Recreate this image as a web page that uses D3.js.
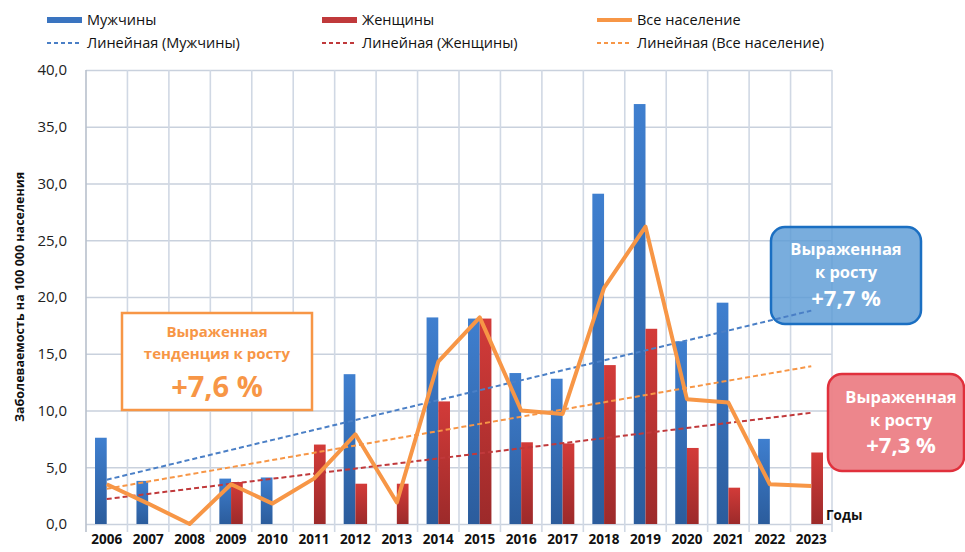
<!DOCTYPE html>
<html>
<head>
<meta charset="utf-8">
<script src="https://cdn.jsdelivr.net/npm/d3@7"></script>
<style>
  body { margin: 0; background: #fff; }
  svg { display: block; }
  .tick text { font-family: "Open Sans", sans-serif; }
</style>
</head>
<body>
<svg id="chart" width="965" height="552"></svg>
<script>
const years = ["2006","2007","2008","2009","2010","2011","2012","2013","2014","2015",
               "2016","2017","2018","2019","2020","2021","2022","2023"];

// заболеваемость на 100 000 населения
const male   = [7.6, 3.8, 0, 4.0, 4.1, 0, 13.2, 0, 18.2, 18.1, 13.3, 12.8, 29.1, 37.0, 16.1, 19.5, 7.5, 0];
const female = [0, 0, 0, 3.7, 0, 7.0, 3.55, 3.55, 10.8, 18.1, 7.2, 7.1, 14.0, 17.2, 6.7, 3.2, 0, 6.3];
const total  = [3.5, 1.8, 0, 3.5, 1.8, 4.0, 7.9, 1.9, 14.3, 18.2, 10.0, 9.7, 20.8, 26.2, 11.0, 10.7, 3.5, 3.35];

// линейные тренды (значения в 2006 и 2023)
const trendMale   = [3.9, 18.8];
const trendFemale = [2.2, 9.8];
const trendTotal  = [3.1, 13.9];

const yTicks = [0, 5, 10, 15, 20, 25, 30, 35, 40];

const margin = {top: 70, left: 86, right: 133, bottom: 28};
const W = 965, H = 552;
const plotRight = W - margin.right, plotBottom = H - margin.bottom;

const svg = d3.select("#chart");

const defs = svg.append("defs");
function grad(id, top, bottom) {
    let g = defs.append("linearGradient").attr("id", id)
        .attr("x1", 0).attr("y1", 0).attr("x2", 0).attr("y2", 1);
    g.append("stop").attr("offset", "0%").attr("stop-color", top);
    g.append("stop").attr("offset", "100%").attr("stop-color", bottom);
}
grad("gMale", "#3f7fcf", "#2b5c9c");
grad("gFemale", "#d33b39", "#9c2a2a");

const x = d3.scaleBand().domain(years).range([margin.left, plotRight]);
const sub = d3.scaleBand().domain(["m", "f"]).range([0, x.bandwidth()]).paddingOuter(0.77);
const y = d3.scaleLinear().domain([0, 40]).range([plotBottom, margin.top]);

const grid = svg.append("g");
// horizontal gridlines
grid.append("g")
    .attr("transform", `translate(${margin.left},0)`)
    .call(d3.axisLeft(y).tickValues(yTicks).tickSize(-(plotRight - margin.left)).tickFormat(""))
    .call(g => g.select(".domain").remove())
    .call(g => g.selectAll("line").attr("stroke", "#c9d1dd").attr("stroke-width", 1.6));
// vertical gridlines
grid.selectAll(".vline").data(years.concat(["end"])).enter().append("line")
    .attr("x1", d => d == "end" ? plotRight : x(d))
    .attr("x2", d => d == "end" ? plotRight : x(d))
    .attr("y1", margin.top).attr("y2", plotBottom + 8)
    .attr("stroke", d => d == "2006" ? "#b8c0cc" : "#d0d8e4")
    .attr("stroke-width", 1.6);

// y tick labels
svg.append("g")
    .attr("transform", `translate(${margin.left - 16},0)`)
    .call(d3.axisLeft(y).tickValues(yTicks).tickSize(0)
        .tickFormat(d => d3.format(".1f")(d).replace(".", ",")))
    .call(g => g.select(".domain").remove())
    .call(g => g.selectAll("text").attr("font-size", 15).attr("fill", "#222"));

// x tick labels
svg.append("g")
    .attr("transform", `translate(0,${plotBottom + 7})`)
    .call(d3.axisBottom(x).tickSize(0))
    .call(g => g.select(".domain").remove())
    .call(g => g.selectAll("text").attr("font-size", 13.5).attr("font-weight", "bold").attr("fill", "#111"));

// annotation boxes
const boxes = svg.append("g");
boxes.append("rect")
    .attr("x", 122).attr("y", 313).attr("width", 190).attr("height", 97)
    .attr("fill", "#fff").attr("stroke", "#f79646").attr("stroke-width", 2.5);
boxes.append("rect")
    .attr("x", 771).attr("y", 227).attr("width", 150).attr("height", 97).attr("rx", 14)
    .attr("fill", "#5b9bd5").attr("fill-opacity", 0.82)
    .attr("stroke", "#1b6fc2").attr("stroke-width", 2.5);
boxes.append("rect")
    .attr("x", 828).attr("y", 374).attr("width", 136).attr("height", 97).attr("rx", 14)
    .attr("fill", "#ec7f86").attr("fill-opacity", 0.95)
    .attr("stroke", "#e0303c").attr("stroke-width", 2.5);

// bars
const barG = svg.append("g");
years.forEach((yr, i) => {
    if (male[i] > 0) {
        barG.append("rect")
            .attr("x", x(yr) + sub("m")).attr("width", sub.bandwidth())
            .attr("y", y(male[i])).attr("height", y(0) - y(male[i]))
            .attr("fill", "url(#gMale)");
    }
    if (female[i] > 0) {
        barG.append("rect")
            .attr("x", x(yr) + sub("f")).attr("width", sub.bandwidth())
            .attr("y", y(female[i])).attr("height", y(0) - y(female[i]))
            .attr("fill", "url(#gFemale)");
    }
});

const cx = d => x(d) + x.bandwidth() / 2;

// trend lines
const trendLine = d3.line().x(d => cx(d[0])).y(d => y(d[1]));
[[trendMale, "#4a7fc6"], [trendFemale, "#c0393b"], [trendTotal, "#f79646"]].forEach(t => {
    svg.append("path")
        .attr("d", trendLine([[years[0], t[0][0]], [years[years.length - 1], t[0][1]]]))
        .attr("fill", "none").attr("stroke", t[1]).attr("stroke-width", 2)
        .attr("stroke-dasharray", "5,3");
});

// total line
svg.append("path")
    .datum(total)
    .attr("d", d3.line().x((d, i) => cx(years[i])).y(d => y(d)))
    .attr("fill", "none").attr("stroke", "#f79646").attr("stroke-width", 4)
    .attr("stroke-linejoin", "round");

// box texts
function boxText(lines, cxPos, fill) {
    lines.forEach(l => {
        svg.append("text").attr("x", cxPos).attr("y", l[0])
            .attr("text-anchor", "middle")
            .attr("font-family", "'Open Sans', sans-serif").attr("font-weight", "bold")
            .attr("font-size", l[2]).attr("fill", fill).text(l[1]);
    });
}
boxText([[337, "Выраженная", 15], [359, "тенденция к росту", 15], [397, "+7,6 %", 29]], 217, "#f79646");
boxText([[255, "Выраженная", 16.5], [278, "к росту", 16.5], [306, "+7,7 %", 22]], 846, "#fff");
boxText([[403, "Выраженная", 16.5], [426, "к росту", 16.5], [453, "+7,3 %", 22]], 901, "#fff");

// axis titles
svg.append("text")
    .attr("transform", `translate(24,${(margin.top + plotBottom) / 2}) rotate(-90)`)
    .attr("text-anchor", "middle")
    .attr("font-family", "'Open Sans', sans-serif").attr("font-weight", "bold")
    .attr("font-size", 12.5).attr("fill", "#111")
    .text("Заболеваемость на 100 000 населения");
svg.append("text")
    .attr("x", 826).attr("y", 520)
    .attr("font-family", "'Open Sans', sans-serif").attr("font-weight", "bold")
    .attr("font-size", 13.5).attr("fill", "#111").text("Годы");

// legend
const legend = [
    {label: "Мужчины", type: "bar", color: "#3a74c0", x: 47, y: 20},
    {label: "Женщины", type: "bar", color: "#c0393b", x: 322, y: 20},
    {label: "Все население", type: "line", color: "#f79646", x: 597, y: 20},
    {label: "Линейная (Мужчины)", type: "dash", color: "#4a7fc6", x: 47, y: 43},
    {label: "Линейная (Женщины)", type: "dash", color: "#c0393b", x: 322, y: 43},
    {label: "Линейная (Все население)", type: "dash", color: "#f79646", x: 597, y: 43}
];
const lg = svg.append("g");
legend.forEach(d => {
    if (d.type == "bar") {
        lg.append("rect").attr("x", d.x).attr("y", d.y - 3).attr("width", 35).attr("height", 6).attr("fill", d.color);
    } else {
        lg.append("line").attr("x1", d.x).attr("x2", d.x + 35).attr("y1", d.y).attr("y2", d.y)
            .attr("stroke", d.color).attr("stroke-width", d.type == "line" ? 4 : 2)
            .attr("stroke-dasharray", d.type == "dash" ? "4,3" : null);
    }
    lg.append("text").attr("x", d.x + 40).attr("y", d.y + 5)
        .attr("font-family", "'Open Sans', sans-serif")
        .attr("font-size", 14.5).attr("fill", "#111").text(d.label);
});
</script>
</body>
</html>
